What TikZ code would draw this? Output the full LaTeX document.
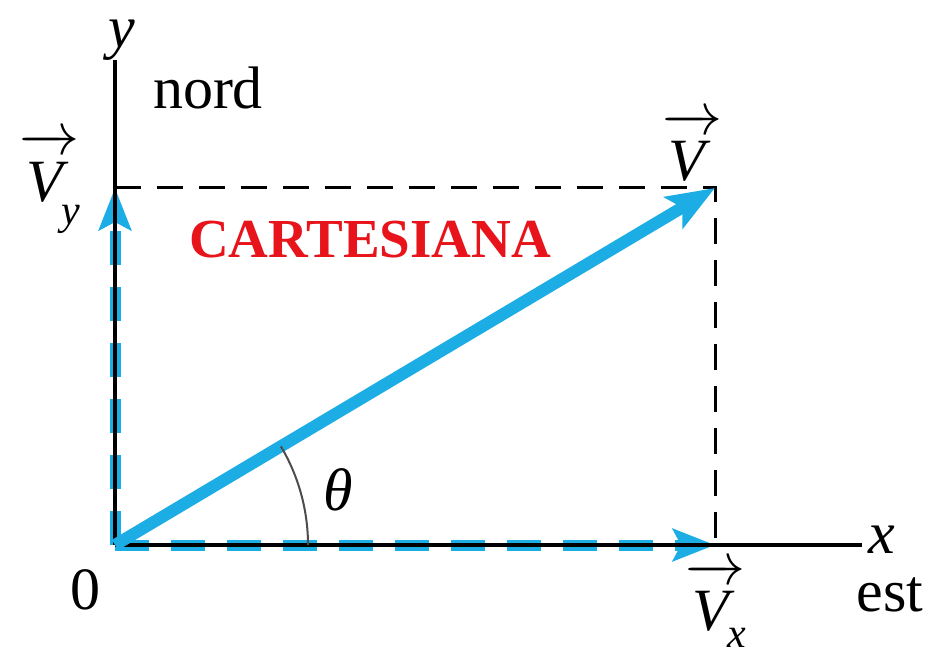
\documentclass[tikz,border=0pt]{standalone}
\usepackage{fix-cm}
\usepackage{amsmath}
\usepackage{fontspec}
\setmainfont{Liberation Serif}
\usetikzlibrary{arrows.meta, positioning}
\definecolor{vecblue}{HTML}{1CADE4}
\definecolor{labelred}{HTML}{E8141B}
\newcommand{\vecV}{\overrightarrow{\rule{0pt}{0.78em}\textit{V}\,}}
\newcommand{\lowsub}[2]{_{\mkern-8mu\lower#1\hbox{$\scriptstyle\textit{#2}$}}}

\begin{document}
\begin{tikzpicture}[x=1pt, y=1pt,
	axis/.style={line width=3.5pt, black},
	guide/.style={line width=3pt, black, dash pattern=on 26pt off 16pt},
	vec/.style={line width=12pt, vecblue, -{Stealth[length=48pt, width=36pt, inset=10pt]}},
	comp/.style={line width=11pt, vecblue, dash pattern=on 34pt off 22pt,
		-{Stealth[length=42pt, width=32pt, inset=8pt]}},
	anglearc/.style={line width=2pt, black!70},
	lbl/.style={font=\fontsize{60}{66}\selectfont, inner sep=0pt}]
	\useasboundingbox (0,0) rectangle (938,657);

	% points of the figure
	\coordinate (O) at (115,112);
	\coordinate (P) at (715,469);
	\coordinate (Px) at (715,112);
	\coordinate (Py) at (115,469);
	\coordinate (Xend) at (862,112);
	\coordinate (Yend) at (115,597);

	% dashed projection lines
	\draw[guide] (Py) -- (P) -- (Px);

	% components
	\draw[comp] (O) -- (Px);
	\draw[comp] (O) -- (Py);

	% axes
	\draw[axis] (O) -- (Xend);
	\draw[axis] (O) -- (Yend);

	% the vector
	\draw[vec] (O) -- (P);
	\draw[anglearc] (O) ++(0:193) arc[start angle=0, end angle=30.75, radius=193];

	% labels
	\node[lbl] (ylab) at (122,617) {\textit{y}};
	\node[lbl] (nord) at (208,569) {nord};
	\node[lbl] (xlab) at (882,117) {\textit{x}};
	\node[lbl] (est) at (890,62) {est};
	\node[lbl] (zero) at (85,67) {0};
	\node[lbl] (theta) at (338,167) {\textit{θ}};
	\node[lbl] (vylab) at (50,474) {$\vecV\lowsub{14pt}{y}$};
	\node[lbl] (vlab) at (692,510) {$\vecV$};
	\node[lbl] (vxlab) at (716,52) {$\vecV\lowsub{8pt}{x}$};
	\node[font=\fontsize{55}{60}\selectfont\bfseries, text=labelred, inner sep=0pt]
		(title) at (370,417) {CARTESIANA};
\end{tikzpicture}
\end{document}
